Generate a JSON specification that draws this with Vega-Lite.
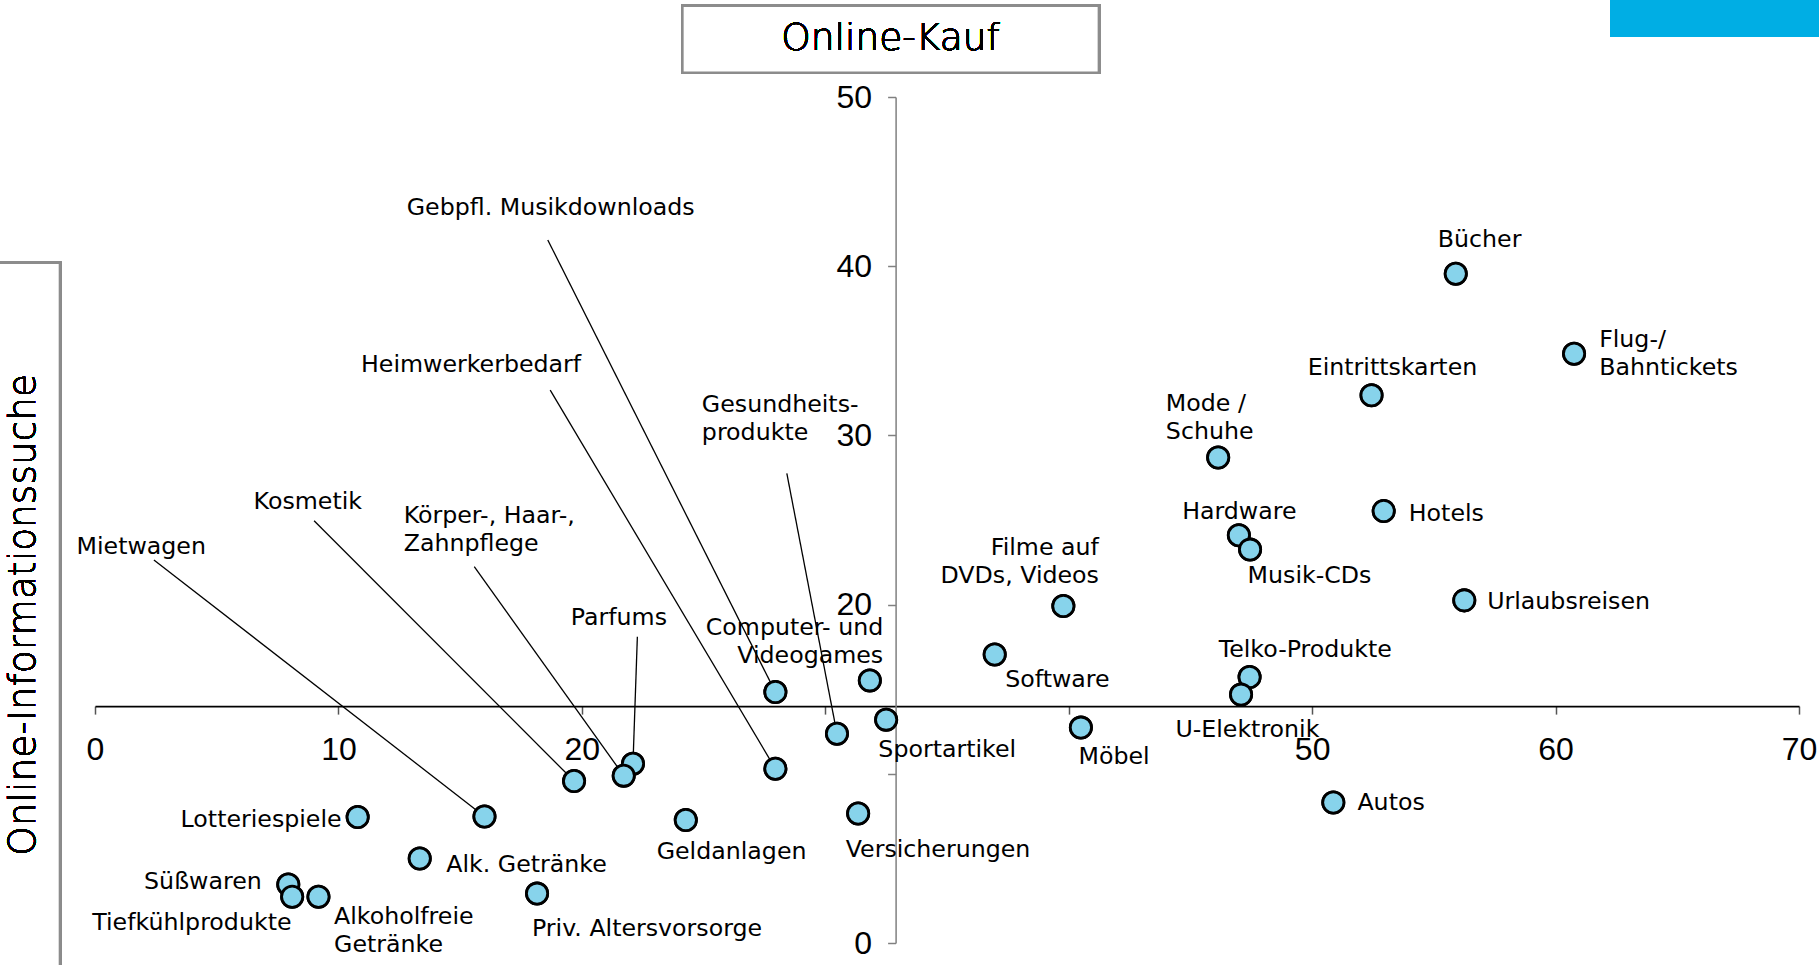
{
  "$schema": "https://vega.github.io/schema/vega-lite/v6.json",
  "width": 1704,
  "height": 846,
  "autosize": {"type": "none"},
  "padding": {"left": 95, "top": 97, "right": 20, "bottom": 22},
  "background": "white",
  "config": {
    "view": {"stroke": null},
    "axis": {"grid": false},
    "text": {"font": "DejaVu Sans", "fontSize": 23.7, "color": "black", "lineBreak": "\n", "lineHeight": 28, "baseline": "middle"}
  },
  "data": {
    "values": [
      {"name": "Bücher", "x": 55.9, "y": 39.55, "label": "Bücher", "lx": 56.88, "ly": 41.55, "pos": "center"},
      {"name": "Flug-/Bahntickets", "x": 60.76, "y": 34.83, "label": "Flug-/\nBahntickets", "lx": 61.79, "ly": 35.65, "pos": "left"},
      {"name": "Eintrittskarten", "x": 52.44, "y": 32.37, "label": "Eintrittskarten", "lx": 53.3, "ly": 34.0, "pos": "center"},
      {"name": "Mode / Schuhe", "x": 46.14, "y": 28.69, "label": "Mode /\nSchuhe", "lx": 43.99, "ly": 31.88, "pos": "left"},
      {"name": "Hotels", "x": 52.94, "y": 25.53, "label": "Hotels", "lx": 53.97, "ly": 25.36, "pos": "left"},
      {"name": "Hardware", "x": 46.99, "y": 24.1, "label": "Hardware", "lx": 47.01, "ly": 25.5, "pos": "center"},
      {"name": "Musik-CDs", "x": 47.45, "y": 23.25, "label": "Musik-CDs", "lx": 49.89, "ly": 21.69, "pos": "center"},
      {"name": "Urlaubsreisen", "x": 56.25, "y": 20.25, "label": "Urlaubsreisen", "lx": 57.19, "ly": 20.17, "pos": "left"},
      {"name": "Filme auf DVDs, Videos", "x": 39.78, "y": 19.92, "label": "Filme auf\nDVDs, Videos", "lx": 41.24, "ly": 23.36, "pos": "right"},
      {"name": "Software", "x": 36.96, "y": 17.05, "label": "Software", "lx": 37.39, "ly": 15.54, "pos": "left"},
      {"name": "Telko-Produkte", "x": 47.43, "y": 15.72, "label": "Telko-Produkte", "lx": 49.72, "ly": 17.32, "pos": "center"},
      {"name": "U-Elektronik", "x": 47.08, "y": 14.68, "label": "U-Elektronik", "lx": 47.34, "ly": 12.59, "pos": "center"},
      {"name": "Computer- und Videogames", "x": 31.83, "y": 15.52, "label": "Computer- und\nVideogames", "lx": 32.38, "ly": 18.61, "pos": "right"},
      {"name": "Sportartikel", "x": 32.5, "y": 13.2, "label": "Sportartikel", "lx": 32.18, "ly": 11.41, "pos": "left"},
      {"name": "Möbel", "x": 40.5, "y": 12.73, "label": "Möbel", "lx": 40.4, "ly": 10.98, "pos": "left"},
      {"name": "Autos", "x": 50.87, "y": 8.3, "label": "Autos", "lx": 51.86, "ly": 8.26, "pos": "left"},
      {"name": "Gebpfl. Musikdownloads", "x": 27.95, "y": 14.83, "label": "Gebpfl. Musikdownloads", "lx": 18.72, "ly": 43.42, "pos": "center", "sx": 18.6, "sy": 41.55},
      {"name": "Heimwerkerbedarf", "x": 27.95, "y": 10.3, "label": "Heimwerkerbedarf", "lx": 15.45, "ly": 34.16, "pos": "center", "sx": 18.7, "sy": 32.68},
      {"name": "Gesundheitsprodukte", "x": 30.48, "y": 12.37, "label": "Gesundheits-\nprodukte", "lx": 24.93, "ly": 31.81, "pos": "left", "sx": 28.42, "sy": 27.76},
      {"name": "Parfums", "x": 22.1, "y": 10.6, "label": "Parfums", "lx": 21.52, "ly": 19.23, "pos": "center", "sx": 22.28, "sy": 18.1},
      {"name": "Körper-, Haar-, Zahnpflege", "x": 21.72, "y": 9.89, "label": "Körper-, Haar-,\nZahnpflege", "lx": 12.68, "ly": 25.22, "pos": "left", "sx": 15.58, "sy": 22.24},
      {"name": "Kosmetik", "x": 19.68, "y": 9.57, "label": "Kosmetik", "lx": 8.74, "ly": 26.05, "pos": "center", "sx": 9.0, "sy": 24.96},
      {"name": "Mietwagen", "x": 16.0, "y": 7.48, "label": "Mietwagen", "lx": 1.9, "ly": 23.42, "pos": "center", "sx": 2.42, "sy": 22.64},
      {"name": "Lotteriespiele", "x": 10.79, "y": 7.45, "label": "Lotteriespiele", "lx": 10.13, "ly": 7.27, "pos": "right"},
      {"name": "Geldanlagen", "x": 24.27, "y": 7.27, "label": "Geldanlagen", "lx": 26.15, "ly": 5.4, "pos": "center"},
      {"name": "Versicherungen", "x": 31.35, "y": 7.65, "label": "Versicherungen", "lx": 30.84, "ly": 5.5, "pos": "left"},
      {"name": "Alk. Getränke", "x": 13.34, "y": 4.99, "label": "Alk. Getränke", "lx": 14.43, "ly": 4.61, "pos": "left"},
      {"name": "Süßwaren", "x": 7.94, "y": 3.46, "label": "Süßwaren", "lx": 6.85, "ly": 3.62, "pos": "right"},
      {"name": "Tiefkühlprodukte", "x": 8.1, "y": 2.73, "label": "Tiefkühlprodukte", "lx": 3.98, "ly": 1.2, "pos": "center"},
      {"name": "Alkoholfreie Getränke", "x": 9.18, "y": 2.73, "label": "Alkoholfreie\nGetränke", "lx": 9.82, "ly": 1.55, "pos": "left"},
      {"name": "Priv. Altersvorsorge", "x": 18.16, "y": 2.92, "label": "Priv. Altersvorsorge", "lx": 17.95, "ly": 0.81, "pos": "left"}
    ]
  },
  "layer": [
    {
      "mark": {"type": "point", "shape": "circle", "filled": true, "fill": "#87D3EB", "stroke": "black", "strokeWidth": 2.8, "size": 450, "opacity": 1},
      "encoding": {
        "x": {
          "field": "x", "type": "quantitative",
          "scale": {"domain": [0, 70], "nice": false, "zero": false},
          "axis": {
            "orient": "bottom", "offset": -236.9, "title": null,
            "values": [0, 10, 20, 30, 40, 50, 60, 70],
            "labelExpr": "datum.value == 30 || datum.value == 40 ? '' : datum.label",
            "domainColor": "black", "domainWidth": 1.6,
            "tickColor": "#555555", "tickSize": 8, "tickWidth": 1.5,
            "labelFont": "Liberation Sans", "labelFontSize": 32, "labelColor": "black",
            "labelPadding": 35, "labelBaseline": "middle", "labelFlush": false, "labelOverlap": false
          }
        },
        "y": {
          "field": "y", "type": "quantitative",
          "scale": {"domain": [0, 50], "nice": false, "zero": false},
          "axis": {
            "orient": "left", "offset": -800.6, "title": null,
            "values": [0, 10, 20, 30, 40, 50],
            "labelExpr": "datum.value == 10 ? '' : datum.label",
            "domainColor": "#808080", "domainWidth": 1.5,
            "tickColor": "#808080", "tickSize": 8, "tickWidth": 1.5,
            "labelFont": "Liberation Sans", "labelFontSize": 32, "labelColor": "black",
            "labelPadding": 16, "labelFlush": false, "labelOverlap": false
          }
        },
        "tooltip": {"field": "name"}
      }
    },
    {
      "mark": {"type": "rect", "fill": "#00AEE4", "stroke": null},
      "encoding": {
        "x": {"datum": 62.24, "type": "quantitative"},
        "x2": {"datum": 71.1},
        "y": {"datum": 56.1, "type": "quantitative"},
        "y2": {"datum": 53.56}
      }
    },
    {
      "mark": {"type": "rect", "fill": "white", "stroke": "#8c8c8c", "strokeWidth": 2.5},
      "encoding": {
        "x": {"datum": 24.13, "type": "quantitative"},
        "x2": {"datum": 41.24},
        "y": {"datum": 55.4, "type": "quantitative"},
        "y2": {"datum": 51.44}
      }
    },
    {
      "mark": {"type": "rect", "fill": "white", "stroke": "#8c8c8c", "strokeWidth": 2.5},
      "encoding": {
        "x": {"datum": -4.2, "type": "quantitative"},
        "x2": {"datum": -1.44},
        "y": {"datum": 40.21, "type": "quantitative"},
        "y2": {"datum": -1.8}
      }
    },
    {
      "mark": {"type": "text", "fontSize": 37.5, "fontWeight": 300, "align": "center", "baseline": "middle"},
      "encoding": {
        "x": {"datum": 32.68, "type": "quantitative"},
        "y": {"datum": 53.43, "type": "quantitative"},
        "text": {"value": "Online-Kauf"}
      }
    },
    {
      "mark": {"type": "text", "fontSize": 37.5, "fontWeight": 300, "align": "center", "baseline": "middle", "angle": 270},
      "encoding": {
        "x": {"datum": -2.92, "type": "quantitative"},
        "y": {"datum": 19.4, "type": "quantitative"},
        "text": {"value": "Online-Informationssuche"}
      }
    },
    {
      "transform": [{"filter": "datum.pos == 'left'"}],
      "mark": {"type": "text", "align": "left"},
      "encoding": {
        "x": {"field": "lx", "type": "quantitative"},
        "y": {"field": "ly", "type": "quantitative"},
        "text": {"field": "label"}
      }
    },
    {
      "transform": [{"filter": "datum.pos == 'center'"}],
      "mark": {"type": "text", "align": "center"},
      "encoding": {
        "x": {"field": "lx", "type": "quantitative"},
        "y": {"field": "ly", "type": "quantitative"},
        "text": {"field": "label"}
      }
    },
    {
      "transform": [{"filter": "datum.pos == 'right'"}],
      "mark": {"type": "text", "align": "right"},
      "encoding": {
        "x": {"field": "lx", "type": "quantitative"},
        "y": {"field": "ly", "type": "quantitative"},
        "text": {"field": "label"}
      }
    },
    {
      "transform": [{"filter": "isValid(datum.sx)"}],
      "mark": {"type": "rule", "color": "black", "strokeWidth": 1.3},
      "encoding": {
        "x": {"field": "sx", "type": "quantitative"},
        "y": {"field": "sy", "type": "quantitative"},
        "x2": {"field": "x"},
        "y2": {"field": "y"}
      }
    },
    {
      "mark": {"type": "point", "shape": "circle", "filled": true, "fill": "#87D3EB", "stroke": "black", "strokeWidth": 2.8, "size": 450, "opacity": 1},
      "encoding": {
        "x": {"field": "x", "type": "quantitative"},
        "y": {"field": "y", "type": "quantitative"},
        "tooltip": {"field": "name"}
      }
    }
  ]
}
